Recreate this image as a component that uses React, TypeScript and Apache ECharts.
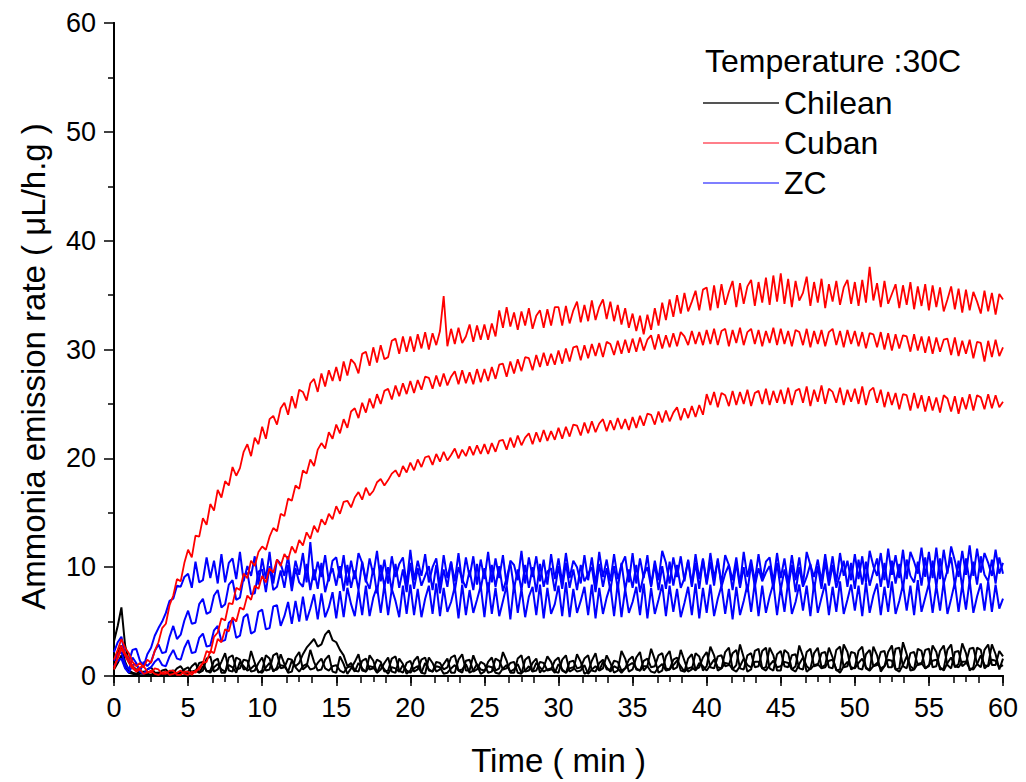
import React, { useEffect, useRef } from "react";
import * as echarts from "echarts";

// sampling grid: one reading every 0.25 min, 0..60 min (241 readings)
const times: number[] = Array.from({ length: 241 }, (_, i) => i * 0.25);

const xTicks = [0, 5, 10, 15, 20, 25, 30, 35, 40, 45, 50, 55, 60];
const yTicks = [0, 10, 20, 30, 40, 50, 60];

const legendTitle = "Temperature :30C";
const groups = ["Chilean", "Cuban", "ZC"];

// ---------- Chilean (black) ----------
const chilean1 = [
  3.2, 4.6, 6.3, 2.8, 1.4, 0.9, 0.6, 0.4, 0.3, 0.6, 0.8, 0.3, 0.2, 0.5, 0.6, 0.2, 0.3, 0.7, 0.9, 0.4,
  0.4, 0.9, 1.2, 0.3, 0.5, 1.6, 1.8, 0.4, 0.6, 1.3, 2.1, 0.5, 0.4, 1.7, 1.5, 0.6, 0.7, 2.3, 1.2, 0.3,
  0.5, 1.9, 1.6, 0.4, 0.8, 2.0, 1.1, 0.3, 0.4, 1.7, 2.2, 0.6, 0.9, 2.4, 1.3, 0.5, 0.6, 1.5, 1.9, 0.4,
  0.3, 1.8, 1.1, 0.2, 0.7, 1.3, 2.0, 0.5, 0.4, 1.9, 1.4, 0.3, 0.6, 1.2, 1.7, 0.4, 0.3, 1.6, 1.1, 0.2,
  0.5, 1.4, 1.8, 0.3, 0.2, 1.7, 1.2, 0.4, 0.6, 1.1, 1.6, 0.3, 0.3, 1.5, 2.0, 0.5, 0.5, 1.9, 1.0, 0.2,
  0.4, 1.3, 1.7, 0.5, 0.7, 2.2, 1.4, 0.3, 0.3, 1.6, 1.9, 0.4, 0.5, 1.2, 1.6, 0.3, 0.8, 1.8, 1.3, 0.4,
  0.3, 1.5, 1.9, 0.4, 0.6, 2.0, 1.3, 0.2, 0.4, 1.4, 2.1, 0.5, 0.7, 1.9, 1.2, 0.3, 0.5, 2.3, 1.6, 0.4,
  0.6, 1.7, 2.2, 0.5, 0.9, 2.5, 1.5, 0.3, 0.5, 1.8, 2.3, 0.6, 0.8, 2.4, 1.4, 0.4, 0.6, 2.1, 1.8, 0.5,
  0.9, 2.7, 1.9, 0.5, 0.7, 2.2, 2.6, 0.6, 1.0, 2.9, 1.7, 0.4, 0.6, 2.3, 2.5, 0.7, 0.8, 2.6, 1.9, 0.5,
  0.5, 2.4, 2.1, 0.6, 0.9, 2.8, 1.8, 0.4, 0.7, 2.1, 2.6, 0.8, 1.0, 2.6, 1.7, 0.5, 0.6, 2.9, 2.2, 0.6,
  0.8, 2.3, 2.7, 0.7, 0.5, 2.7, 1.9, 0.4, 0.9, 2.2, 2.8, 0.6, 0.7, 3.1, 2.0, 0.5, 0.6, 2.5, 2.3, 0.7,
  0.9, 2.8, 2.2, 0.6, 0.7, 2.4, 2.9, 0.8, 1.1, 3.0, 2.1, 0.5, 0.8, 2.6, 2.4, 0.7, 1.0, 2.9, 2.0, 0.6,
  1.6,
];
const chilean2 = [
  1.2, 2.1, 2.8, 1.3, 0.5, 0.3, 0.2, 0.4, 0.4, 0.2, 0.1, 0.3, 0.3, 0.1, 0.2, 0.4, 0.5, 0.2, 0.3, 0.6,
  0.8, 0.3, 0.4, 1.2, 1.3, 0.4, 0.5, 1.4, 1.6, 0.3, 0.3, 1.7, 1.9, 0.6, 0.7, 1.5, 1.4, 0.4, 0.5, 1.2,
  1.7, 0.5, 0.6, 1.9, 2.1, 0.7, 0.8, 1.6, 1.5, 0.9, 1.2, 2.0, 2.6, 3.0, 3.4, 2.7, 2.9, 3.8, 4.2, 3.3,
  3.1, 2.4, 1.9, 0.9, 1.2, 0.5, 0.4, 1.4, 1.6, 0.6, 0.7, 1.5, 1.3, 0.4, 0.5, 1.6, 1.8, 0.5, 0.3, 1.2,
  1.4, 0.4, 0.6, 1.5, 1.7, 0.5, 0.4, 1.3, 1.2, 0.6, 0.8, 1.7, 1.9, 0.5, 0.3, 1.4, 1.5, 0.4, 0.6, 1.3,
  1.1, 0.3, 0.4, 1.6, 1.4, 0.6, 0.7, 1.2, 1.3, 0.3, 0.2, 1.5, 1.8, 0.4, 0.5, 1.3, 1.2, 0.5, 0.6, 1.4,
  1.7, 0.5, 0.3, 1.3, 1.4, 0.7, 0.8, 1.6, 1.9, 0.5, 0.4, 1.2, 1.5, 0.6, 0.6, 1.4, 1.3, 0.5, 0.7, 1.5,
  1.8, 0.6, 0.5, 1.4, 1.6, 0.8, 0.9, 1.9, 2.1, 0.7, 0.6, 1.5, 1.7, 0.5, 0.4, 1.6, 2.0, 0.6, 0.8, 1.7,
  2.2, 0.8, 0.7, 1.8, 1.9, 0.9, 1.0, 2.1, 2.4, 0.7, 0.6, 1.9, 2.1, 0.8, 0.9, 2.3, 2.6, 0.7, 0.5, 2.0,
  2.3, 0.9, 0.8, 1.9, 2.0, 0.7, 0.6, 2.2, 2.5, 0.9, 1.0, 2.1, 2.2, 0.8, 0.7, 2.4, 2.7, 0.8, 0.9, 2.2,
  2.1, 0.7, 0.6, 2.0, 2.4, 0.9, 1.0, 2.2, 2.3, 0.8, 0.8, 2.5, 2.6, 0.9, 0.7, 2.1, 2.2, 1.0, 1.1, 2.4,
  2.5, 0.8, 0.9, 2.3, 2.8, 1.0, 0.7, 2.2, 2.3, 0.9, 1.2, 2.5, 2.6, 1.1, 0.8, 2.4, 2.9, 1.0, 1.0, 2.3,
  1.8,
];
const chilean3 = [
  0.6, 1.2, 1.9, 0.8, 0.3, 0.2, 0.1, 0.2, 0.2, 0.1, 0.0, 0.2, 0.3, 0.1, 0.1, 0.3, 0.2, 0.1, 0.4, 0.2,
  0.2, 0.4, 0.5, 0.3, 0.9, 0.5, 0.3, 0.8, 1.1, 0.6, 0.4, 1.0, 0.8, 0.3, 1.3, 0.9, 0.5, 0.7, 1.0, 0.4,
  0.3, 0.8, 1.2, 0.5, 0.6, 1.0, 0.9, 0.4, 1.4, 0.8, 0.4, 0.9, 1.1, 0.6, 0.7, 1.2, 1.6, 0.7, 0.5, 0.9,
  1.0, 0.5, 0.3, 0.8, 0.9, 0.4, 1.2, 0.7, 0.4, 0.9, 0.8, 0.3, 1.1, 0.6, 0.2, 0.8, 0.7, 0.4, 1.0, 0.5,
  0.3, 0.7, 0.9, 0.3, 1.2, 0.6, 0.4, 0.9, 0.8, 0.2, 0.3, 0.7, 1.0, 0.5, 0.6, 1.1, 0.3, 0.5, 1.1, 0.6,
  0.5, 0.9, 0.8, 0.3, 0.2, 0.7, 1.0, 0.4, 0.6, 1.1, 0.3, 0.5, 0.9, 0.4, 1.2, 0.8, 0.4, 0.6, 0.7, 0.3,
  1.1, 0.6, 0.3, 0.7, 0.8, 0.4, 0.5, 1.0, 0.2, 0.6, 0.9, 0.5, 1.3, 0.8, 0.4, 0.9, 0.7, 0.3, 0.7, 1.0,
  1.2, 0.7, 0.5, 0.9, 0.9, 0.4, 0.3, 0.8, 1.1, 0.5, 0.6, 1.0, 1.4, 0.9, 0.4, 0.7, 0.8, 0.5, 1.2, 0.9,
  0.5, 1.0, 1.5, 0.8, 0.7, 1.2, 1.1, 0.6, 0.4, 0.9, 1.6, 1.0, 0.8, 1.3, 1.3, 0.7, 0.5, 1.0, 1.4, 0.8,
  0.9, 1.3, 1.2, 0.6, 0.4, 1.1, 1.7, 0.9, 0.6, 1.0, 1.1, 0.7, 0.8, 1.4, 1.5, 0.6, 0.3, 0.9, 1.3, 0.8,
  0.7, 1.2, 1.6, 0.8, 0.5, 0.9, 1.2, 0.7, 0.9, 1.5, 1.4, 0.6, 0.4, 1.0, 1.8, 0.9, 0.6, 1.1, 1.2, 0.7,
  1.0, 1.4, 1.5, 0.8, 0.5, 1.2, 1.7, 0.9, 0.8, 1.3, 1.3, 0.7, 0.6, 1.1, 1.9, 1.0, 0.9, 1.5, 1.4, 0.8,
  1.0,
];

// ---------- Cuban (red) ----------
const cuban1 = [
  1.5, 2.4, 3.4, 2.6, 2.1, 1.3, 0.9, 1.2, 0.8, 1.5, 1.2, 2.3, 3.1, 4.4, 4.8, 6.5, 7.4, 8.9, 8.7, 10.4,
  11.6, 10.9, 12.9, 12.8, 14.5, 13.9, 15.8, 15.2, 17.1, 16.4, 17.9, 17.5, 19.2, 18.4, 19.1, 20.6, 21.3, 20.2, 21.9, 21.3,
  22.9, 21.8, 23.6, 23.9, 23.1, 24.6, 25.1, 24.0, 25.7, 24.6, 26.3, 26.1, 25.3, 26.9, 27.3, 26.1, 27.8, 26.6, 28.1, 27.1,
  28.4, 27.1, 28.9, 27.6, 29.1, 28.7, 27.8, 29.6, 29.8, 28.5, 30.2, 28.8, 30.4, 29.1, 29.3, 30.8, 31.0, 29.6, 31.2, 29.8,
  31.2, 29.8, 31.4, 30.1, 31.6, 30.0, 31.5, 30.4, 31.7, 34.9, 30.3, 31.9, 30.5, 32.0, 30.6, 31.2, 32.3, 30.7, 32.2, 30.9,
  32.3, 30.9, 32.4, 31.2, 33.6, 32.0, 33.9, 32.1, 33.4, 31.8, 33.5, 32.2, 33.8, 31.9, 33.1, 33.6, 32.0, 33.7, 32.2, 33.9,
  33.9, 32.2, 34.0, 32.4, 33.6, 34.4, 32.5, 34.1, 32.6, 34.5, 32.7, 33.9, 34.6, 32.8, 34.4, 32.6, 34.1, 32.3, 33.8, 32.0,
  33.3, 31.7, 33.1, 31.4, 33.2, 31.8, 33.8, 32.2, 34.3, 32.7, 34.6, 33.0, 35.0, 33.3, 35.2, 33.5, 34.4, 35.4, 33.6, 35.5,
  35.7, 33.6, 35.9, 33.8, 36.0, 34.1, 35.3, 36.3, 33.9, 36.1, 34.2, 35.8, 36.4, 34.0, 36.2, 34.3, 36.6, 34.1, 36.8, 34.4,
  37.0, 34.2, 36.5, 33.9, 36.3, 34.5, 35.2, 36.7, 34.0, 36.2, 34.3, 36.5, 33.8, 36.0, 34.4, 36.3, 34.1, 35.7, 36.4, 34.2,
  36.2, 34.0, 36.4, 34.3, 37.6, 34.5, 36.1, 33.9, 36.3, 34.2, 35.1, 36.0, 33.8, 35.9, 34.1, 36.2, 33.7, 35.8, 34.0, 36.0,
  33.6, 35.9, 33.9, 35.7, 33.5, 34.6, 35.8, 33.7, 35.6, 33.4, 35.5, 33.6, 35.3, 34.4, 33.3, 35.4, 33.5, 35.2, 33.2, 35.1,
  34.6,
];
const cuban2 = [
  0.6, 1.8, 2.8, 2.1, 1.6, 0.9, 0.5, 0.8, 0.9, 0.4, 0.3, 0.7, 0.6, 0.2, 0.2, 0.5, 0.5, 0.1, 0.1, 0.4,
  0.4, 0.1, 0.5, 0.6, 1.2, 2.3, 2.1, 3.6, 4.0, 5.3, 5.1, 6.7, 6.6, 8.1, 7.9, 9.4, 9.0, 10.6, 10.1, 11.4,
  11.9, 11.6, 12.8, 13.6, 13.3, 14.9, 14.7, 16.3, 16.1, 17.5, 17.2, 18.9, 18.6, 19.9, 19.3, 20.8, 21.4, 20.9, 22.4, 21.8,
  23.1, 22.3, 23.6, 22.8, 24.3, 24.6, 23.7, 25.1, 24.2, 25.5, 24.6, 25.9, 25.0, 26.2, 26.4, 25.4, 26.7, 25.7, 26.9, 25.9,
  27.1, 26.0, 27.2, 26.3, 27.5, 27.4, 26.4, 27.6, 26.6, 27.8, 26.7, 27.5, 28.0, 26.8, 28.1, 26.9, 27.9, 26.8, 28.2, 27.0,
  28.2, 27.1, 28.4, 27.3, 28.6, 28.7, 27.5, 28.9, 27.8, 29.1, 28.0, 29.3, 29.2, 28.1, 29.5, 28.4, 29.7, 28.5, 29.6, 28.6,
  29.9, 28.7, 30.1, 28.9, 30.2, 30.3, 29.0, 30.4, 29.2, 30.5, 29.4, 30.6, 29.3, 30.7, 30.5, 29.5, 30.8, 29.6, 30.9, 29.7,
  31.0, 29.8, 31.1, 29.9, 30.9, 31.3, 30.0, 31.4, 30.1, 31.3, 30.2, 31.5, 30.3, 31.6, 31.2, 30.4, 31.7, 30.5, 31.6, 30.4,
  31.8, 30.5, 31.9, 30.4, 31.7, 31.9, 30.3, 31.8, 30.6, 32.0, 30.4, 31.6, 31.9, 30.5, 31.8, 30.3, 31.7, 30.6, 32.0, 30.4,
  31.9, 30.5, 31.7, 30.3, 31.8, 31.6, 30.4, 31.9, 30.2, 31.7, 30.5, 31.8, 30.3, 31.6, 31.9, 30.4, 31.7, 30.2, 31.8, 30.5,
  31.7, 30.3, 31.6, 30.1, 31.5, 31.4, 30.2, 31.6, 30.0, 31.5, 29.9, 31.4, 30.1, 31.3, 31.2, 29.8, 31.4, 29.9, 31.2, 29.7,
  31.2, 29.6, 31.1, 29.8, 30.9, 31.0, 29.5, 31.1, 29.4, 30.8, 29.6, 30.9, 29.2, 30.7, 30.6, 28.9, 30.8, 29.3, 30.9, 29.4,
  30.2,
];
const cuban3 = [
  0.8, 1.6, 2.5, 1.9, 1.2, 0.7, 0.4, 0.6, 0.2, 0.3, 0.5, 0.2, 0.1, 0.3, 0.4, 0.1, 0.2, 0.3, 0.5, 0.2,
  0.1, 0.4, 0.3, 0.8, 1.2, 1.3, 2.3, 2.1, 3.4, 3.1, 4.3, 4.1, 5.4, 5.0, 6.3, 6.1, 7.4, 7.0, 8.3, 8.0,
  9.2, 8.6, 9.9, 9.5, 10.7, 10.1, 11.2, 10.7, 11.9, 11.3, 12.5, 12.0, 13.2, 12.6, 13.8, 13.2, 14.4, 13.9, 14.9, 14.4,
  15.6, 14.9, 16.0, 16.1, 15.5, 16.4, 16.9, 16.2, 17.3, 16.6, 17.0, 17.8, 18.1, 17.5, 18.0, 18.6, 18.9, 18.3, 19.3, 18.7,
  19.6, 18.9, 19.9, 19.2, 20.1, 20.2, 19.4, 20.4, 19.7, 20.6, 19.8, 20.3, 20.9, 20.0, 20.8, 20.2, 21.1, 20.3, 21.2, 20.4,
  21.3, 20.4, 21.4, 20.6, 21.6, 21.7, 20.8, 21.9, 21.0, 22.1, 21.2, 21.9, 22.3, 21.3, 22.4, 21.5, 22.6, 21.6, 22.5, 21.7,
  22.8, 21.8, 22.9, 22.0, 23.1, 23.0, 22.1, 23.3, 22.3, 23.4, 22.4, 23.2, 23.6, 22.5, 23.5, 22.6, 23.7, 22.7, 23.6, 22.6,
  23.8, 22.8, 23.9, 23.0, 24.1, 24.0, 23.1, 24.3, 23.3, 24.4, 23.4, 24.2, 24.7, 23.5, 24.6, 23.7, 24.8, 23.8, 24.9, 24.0,
  25.9, 24.9, 26.1, 24.7, 26.0, 25.8, 24.8, 26.2, 24.9, 26.1, 25.0, 26.3, 24.8, 26.0, 26.2, 25.0, 26.4, 24.9, 26.2, 25.1,
  26.3, 25.0, 26.5, 24.9, 26.2, 26.4, 25.1, 26.6, 24.8, 26.3, 25.2, 26.7, 25.0, 26.4, 26.1, 25.1, 26.5, 24.9, 26.3, 25.2,
  26.4, 25.0, 26.6, 24.9, 26.2, 26.5, 25.1, 26.3, 24.7, 26.1, 24.9, 26.0, 24.5, 25.9, 25.8, 24.4, 26.0, 24.6, 25.8, 24.3,
  25.7, 24.4, 25.6, 24.2, 25.8, 25.5, 24.3, 25.7, 24.1, 25.6, 24.5, 25.9, 24.4, 25.8, 25.6, 24.5, 25.9, 24.6, 25.8, 24.7,
  25.2,
];

// ---------- ZC (blue) ----------
const zc1 = [
  2.2, 3.1, 3.6, 1.9, 1.3, 2.4, 2.5, 1.4, 0.9, 2.0, 2.6, 3.7, 4.4, 5.0, 5.8, 6.9, 7.1, 8.3, 8.2, 9.1,
  9.4, 8.1, 10.5, 8.6, 8.8, 10.9, 9.0, 10.6, 8.5, 11.2, 8.6, 10.4, 10.8, 8.9, 11.4, 8.7, 10.1, 9.2, 11.0, 8.4,
  10.8, 8.9, 11.4, 8.5, 10.7, 10.3, 9.2, 11.0, 8.4, 10.6, 9.3, 11.3, 8.6, 12.3, 8.8, 10.5, 9.1, 11.1, 8.7, 10.6,
  10.9, 9.0, 11.1, 8.3, 10.6, 8.9, 11.3, 10.4, 8.6, 10.8, 9.3, 11.5, 8.7, 10.7, 8.5, 11.0, 9.1, 10.3, 10.9, 8.4,
  11.6, 8.8, 10.6, 9.2, 11.2, 8.6, 10.0, 10.8, 8.3, 11.1, 9.0, 10.5, 8.7, 11.3, 8.5, 10.9, 9.1, 11.0, 8.4, 10.7,
  8.9, 11.4, 8.6, 10.8, 9.0, 11.1, 8.3, 10.6, 10.2, 8.8, 11.5, 8.5, 10.9, 9.1, 11.0, 8.7, 10.7, 8.4, 11.2, 8.9,
  10.8, 8.6, 11.3, 9.0, 10.6, 10.0, 8.5, 11.1, 8.8, 10.9, 8.4, 11.4, 9.1, 10.7, 8.7, 11.2, 8.9, 10.2, 11.0, 8.6,
  11.3, 8.5, 10.8, 9.0, 11.1, 8.3, 10.6, 8.8, 11.5, 10.4, 8.5, 10.9, 9.1, 11.0, 8.7, 10.7, 8.4, 11.2, 8.9, 10.8,
  8.6, 11.3, 9.0, 10.6, 8.5, 11.1, 10.2, 8.8, 10.9, 8.4, 11.4, 9.1, 10.7, 8.7, 11.2, 8.9, 10.5, 10.9, 8.6, 11.3,
  9.0, 10.8, 8.5, 11.1, 8.8, 10.9, 8.4, 11.4, 10.2, 9.1, 10.7, 8.7, 11.2, 8.9, 11.0, 8.6, 11.3, 9.2, 10.6, 8.8,
  11.2, 8.9, 11.0, 8.6, 11.5, 10.1, 9.2, 11.3, 8.8, 11.7, 9.3, 11.1, 9.0, 11.6, 8.9, 11.4, 10.5, 9.4, 11.8, 9.1,
  11.4, 9.0, 11.8, 8.9, 11.6, 9.4, 11.9, 10.6, 9.1, 11.5, 9.3, 12.0, 9.2, 11.7, 9.5, 11.3, 10.4, 9.2, 11.6, 9.4,
  10.4,
];
const zc2 = [
  1.4, 2.0, 2.2, 1.1, 0.6, 1.7, 1.2, 0.4, 1.3, 0.9, 1.3, 2.3, 2.9, 2.1, 2.2, 3.6, 4.6, 3.4, 3.8, 5.1,
  6.0, 4.8, 4.9, 6.6, 7.1, 5.7, 5.9, 7.4, 7.9, 6.3, 6.6, 8.4, 8.8, 7.0, 7.2, 9.1, 9.5, 7.5, 7.6, 9.6,
  9.8, 7.7, 10.1, 7.9, 8.2, 9.7, 8.1, 10.2, 7.8, 9.9, 8.6, 8.2, 10.3, 7.9, 9.8, 8.0, 10.4, 7.7, 9.1, 9.9,
  8.3, 10.1, 7.8, 10.2, 8.1, 9.7, 7.9, 10.5, 8.8, 8.0, 9.9, 7.6, 10.2, 8.2, 10.0, 7.8, 10.3, 8.1, 9.8, 7.7,
  10.4, 8.0, 9.9, 8.3, 9.2, 10.1, 7.9, 10.2, 7.6, 9.8, 8.2, 10.5, 7.8, 10.0, 8.9, 8.1, 9.7, 7.9, 10.3, 8.0,
  9.9, 7.7, 10.2, 8.2, 10.1, 7.8, 9.0, 10.4, 8.0, 9.8, 7.9, 10.2, 8.1, 10.0, 7.7, 10.3, 8.2, 9.6, 9.9, 7.8,
  10.1, 8.0, 10.4, 8.1, 9.8, 7.9, 10.2, 8.7, 9.4, 10.0, 7.7, 10.3, 8.2, 9.9, 7.8, 10.1, 8.0, 10.4, 7.9, 9.8,
  8.1, 10.2, 7.7, 9.3, 10.0, 8.2, 10.3, 7.9, 10.1, 8.0, 10.5, 8.3, 10.2, 8.1, 9.0, 10.6, 8.2, 10.4, 8.0, 10.7,
  8.4, 10.5, 8.3, 10.8, 8.2, 9.4, 10.2, 7.9, 10.4, 8.1, 10.0, 7.7, 10.3, 8.2, 9.9, 8.7, 9.5, 10.1, 8.0, 10.4,
  7.9, 9.8, 8.1, 10.2, 7.7, 10.0, 8.2, 9.1, 10.3, 7.9, 10.1, 8.0, 10.5, 8.3, 10.2, 8.1, 9.3, 10.6, 8.2, 10.4,
  8.0, 10.7, 8.4, 10.5, 8.3, 9.6, 10.8, 8.2, 10.4, 8.1, 10.6, 8.5, 10.3, 8.0, 10.7, 9.2, 8.6, 10.5, 8.3, 10.9,
  8.4, 10.6, 8.2, 10.8, 8.5, 9.7, 10.9, 8.3, 10.6, 8.1, 10.8, 8.6, 10.5, 8.4, 11.0, 9.3, 8.7, 10.7, 8.5, 10.9,
  9.4,
];
const zc3 = [
  0.9, 1.4, 1.6, 0.7, 0.3, 1.0, 1.1, 0.4, 0.2, 0.6, 0.8, 1.3, 1.6, 1.0, 0.9, 1.8, 2.4, 1.6, 1.5, 2.6,
  3.3, 2.1, 2.2, 3.5, 3.9, 2.7, 2.8, 4.2, 4.6, 3.2, 3.3, 4.9, 5.2, 3.5, 3.7, 5.4, 5.7, 3.9, 4.1, 5.9,
  6.1, 4.3, 4.4, 6.4, 6.5, 4.6, 5.5, 6.8, 4.8, 6.9, 5.0, 7.3, 5.1, 6.2, 7.5, 5.2, 7.6, 5.4, 6.3, 7.7,
  5.3, 7.8, 5.4, 8.1, 6.6, 5.5, 7.9, 5.6, 8.3, 5.5, 7.2, 8.2, 5.8, 8.4, 5.6, 8.0, 6.9, 5.4, 8.3, 5.7,
  8.4, 5.6, 8.0, 5.4, 7.1, 8.3, 5.7, 8.5, 5.5, 8.1, 5.9, 6.8, 8.2, 5.3, 8.4, 5.6, 7.9, 5.8, 7.0, 8.3,
  5.4, 8.6, 5.7, 8.1, 5.5, 6.9, 8.3, 5.2, 8.5, 5.8, 8.0, 5.4, 7.3, 8.2, 5.6, 8.4, 5.3, 8.1, 5.7, 6.6,
  8.3, 5.5, 8.6, 5.4, 8.0, 5.8, 6.9, 8.2, 5.6, 8.4, 5.3, 8.1, 5.7, 7.2, 8.3, 5.5, 8.6, 5.4, 8.0, 5.8,
  6.8, 8.2, 5.6, 8.5, 5.3, 8.1, 5.7, 7.0, 8.4, 5.5, 8.3, 5.9, 8.0, 5.4, 6.7, 8.2, 5.6, 8.5, 5.3, 8.1,
  5.8, 8.4, 5.5, 7.1, 8.3, 5.7, 8.0, 5.2, 8.2, 5.6, 6.9, 8.4, 5.9, 8.6, 5.5, 8.3, 5.8, 7.3, 8.5, 5.6,
  8.2, 5.9, 8.7, 5.7, 6.8, 8.4, 6.0, 8.3, 5.5, 8.6, 5.8, 7.2, 8.5, 5.6, 8.2, 5.9, 8.7, 5.7, 7.0, 8.4,
  6.0, 8.3, 5.5, 8.6, 5.8, 7.4, 8.5, 5.6, 8.2, 5.9, 8.7, 5.7, 6.9, 8.4, 6.0, 8.3, 5.6, 8.8, 5.9, 7.2,
  8.5, 5.8, 8.3, 6.0, 8.7, 5.7, 7.1, 8.6, 5.9, 8.4, 6.1, 8.8, 5.8, 7.3, 8.5, 6.0, 8.7, 5.9, 8.4, 6.2,
  7.1,
];

const FONT = "'Liberation Sans', Arial, sans-serif";

function pairs(vals: number[]) {
  const out: number[][] = [];
  for (let i = 0; i < times.length && i < vals.length; i++) out.push([times[i], vals[i]]);
  return out;
}

export default function App() {
  const ref = useRef<HTMLDivElement>(null);

  useEffect(() => {
    document.body.style.margin = "0";
    if (!ref.current) return;
    const chart = echarts.init(ref.current, undefined, { renderer: "svg" });

    const mk = (name: string, vals: number[], color: string, width: number) => ({
      name,
      type: "line",
      xAxisIndex: 0,
      yAxisIndex: 0,
      data: pairs(vals),
      showSymbol: false,
      symbol: "none",
      lineStyle: { color, width },
      itemStyle: { color },
      silent: true,
    });

    chart.setOption({
      animation: false,
      backgroundColor: "#ffffff",
      title: {
        text: legendTitle,
        left: 700,
        top: 40,
        textStyle: { fontFamily: FONT, fontSize: 32, fontWeight: "normal", color: "#000" },
      },
      legend: {
        orient: "vertical",
        left: 698,
        top: 82,
        itemWidth: 76,
        itemHeight: 2,
        itemGap: 8,
        textStyle: { fontFamily: FONT, fontSize: 32, color: "#000" },
        data: [
          { name: groups[0], icon: "rect", itemStyle: { color: "#555555" } },
          { name: groups[1], icon: "rect", itemStyle: { color: "#ff7f8a" } },
          { name: groups[2], icon: "rect", itemStyle: { color: "#7f7fff" } },
        ],
        selectedMode: false,
      },
      grid: { left: 114, right: 23, top: 23, bottom: 105, containLabel: false },
      xAxis: [
        {
          type: "value",
          position: "bottom",
          min: xTicks[0],
          max: xTicks[xTicks.length - 1],
          interval: 5,
          name: "Time ( min )",
          nameLocation: "middle",
          nameGap: 68,
          nameTextStyle: { fontFamily: FONT, fontSize: 33, color: "#000" },
          axisLine: { show: true, lineStyle: { color: "#000", width: 2 } },
          axisTick: { show: true, inside: false, length: 10, lineStyle: { color: "#000", width: 1.5 } },
          minorTick: { show: true, splitNumber: 2, length: 6, lineStyle: { color: "#000", width: 1.5 } },
          axisLabel: { fontFamily: FONT, fontSize: 27, color: "#000", margin: 18 },
          splitLine: { show: false },
        },
        {
          type: "value",
          position: "top",
          min: 0,
          max: 36,
          interval: 1,
          axisLine: { show: true, lineStyle: { color: "#000", width: 2 } },
          axisTick: { show: true, inside: true, length: 7, lineStyle: { color: "#000", width: 1.5 } },
          axisLabel: { show: false },
          splitLine: { show: false },
        },
      ],
      yAxis: [
        {
          type: "value",
          position: "left",
          min: yTicks[0],
          max: yTicks[yTicks.length - 1],
          interval: 10,
          name: "Ammonia emission rate ( \u03bcL/h.g )",
          nameLocation: "middle",
          nameGap: 64,
          nameRotate: 90,
          nameTextStyle: { fontFamily: FONT, fontSize: 33, color: "#000", padding: [0, 34, 0, 0] },
          axisLine: { show: true, lineStyle: { color: "#000", width: 2 } },
          axisTick: { show: true, inside: false, length: 10, lineStyle: { color: "#000", width: 1.5 } },
          minorTick: { show: true, splitNumber: 2, length: 6, lineStyle: { color: "#000", width: 1.5 } },
          axisLabel: { fontFamily: FONT, fontSize: 27, color: "#000", margin: 18 },
          splitLine: { show: false },
        },
        {
          type: "value",
          position: "right",
          min: 0,
          max: 60,
          interval: 10,
          axisLine: { show: true, lineStyle: { color: "#000", width: 2 } },
          axisTick: { show: false },
          axisLabel: { show: false },
          splitLine: { show: false },
        },
      ],
      series: [
        mk(groups[0], chilean1, "#000000", 2),
        mk(groups[0], chilean2, "#000000", 2),
        mk(groups[0], chilean3, "#000000", 2),
        mk(groups[2], zc1, "#0000ff", 2),
        mk(groups[2], zc2, "#0000ff", 2),
        mk(groups[2], zc3, "#0000ff", 2),
        mk(groups[1], cuban1, "#ff0000", 1.8),
        mk(groups[1], cuban2, "#ff0000", 1.8),
        mk(groups[1], cuban3, "#ff0000", 1.8),
      ],
    });

    return () => chart.dispose();
  }, []);

  return <div ref={ref} style={{ width: 1026, height: 782 }} />;
}
